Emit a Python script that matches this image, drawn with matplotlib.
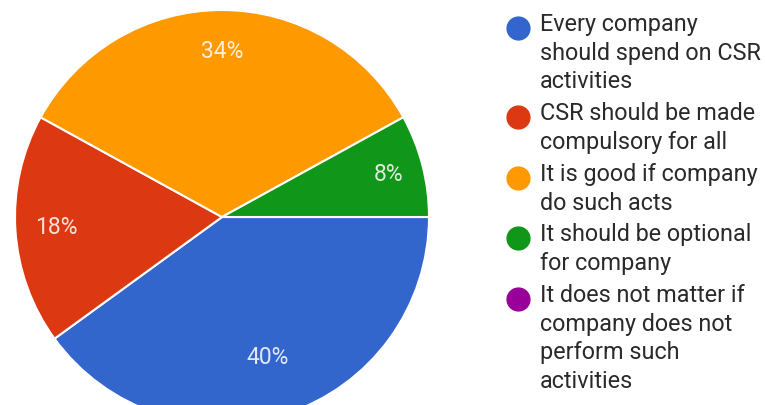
import numpy as np
import matplotlib
matplotlib.use("Agg")
import matplotlib.pyplot as plt

plt.rcParams["font.family"] = ["Roboto", "DejaVu Sans"]

labels = [
    "Every company\nshould spend on CSR\nactivities",
    "CSR should be made\ncompulsory for all",
    "It is good if company\ndo such acts",
    "It should be optional\nfor company",
    "It does not matter if\ncompany does not\nperform such\nactivities",
]
shares = [40, 18, 34, 8, 0]
colors = ["#3366cc", "#dc3912", "#ff9900", "#109618", "#990099"]

W, H = 765, 405
cx, cy, r = 222, H - 217, 207
fig = plt.figure(figsize=(W / 100, H / 100), dpi=100)
ax = fig.add_axes([0, 0, 1, 1])

# only the answers that got votes get a wedge
drawn = [(s, c) for s, c in zip(shares, colors) if s > 0]
wedges, texts, autotexts = ax.pie(
    [s for s, _ in drawn],
    colors=[c for _, c in drawn],
    startangle=0,
    counterclock=False,
    radius=r,
    center=(cx, cy),
    autopct=lambda p: f"{p:.0f}%",
    pctdistance=0.77,
    wedgeprops=dict(edgecolor="white", linewidth=1.5),
    textprops=dict(color="white", fontsize=16.5),
)
# nudge the percentage labels radially, wedge by wedge
label_r = [0.715, 0.80, 0.80, 0.83]
for w, t, f in zip(wedges, autotexts, label_r):
    mid = np.deg2rad((w.theta1 + w.theta2) / 2)
    t.set_position((cx + f * r * np.cos(mid), cy + f * r * np.sin(mid)))
    t.set_alpha(0.85)

ax.set_xlim(0, W)
ax.set_ylim(0, H)
ax.set_aspect("auto")
ax.axis("off")

# legend on the right, one dot per answer, wrapped text
line = 0
for i, (lab, col) in enumerate(zip(labels, colors)):
    y0 = 25 + line * 28.5 + i * 3.5
    ax.scatter([518], [H - y0 - 3], s=270, color=col, zorder=3)
    for j, part in enumerate(lab.split("\n")):
        y = 25 + (line + j) * 28.5 + i * 3.5
        ax.text(540, H - y - 6.5, part, fontsize=16.8, color="#2a2a2a",
                va="baseline", ha="left")
    line += len(lab.split("\n"))

fig.savefig("out.png", dpi=100, facecolor="white")
plt.close(fig)
